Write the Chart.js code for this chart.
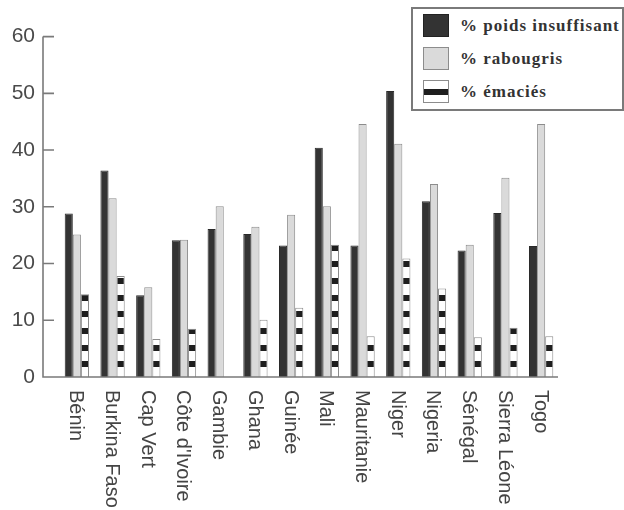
<!DOCTYPE html>
<html>
<head>
<meta charset="utf-8">
<script src="https://cdn.jsdelivr.net/npm/chart.js@4.4.1/dist/chart.umd.min.js"></script>
<style>
    body { margin: 0; background: #fff; }
    #wrap { position: relative; width: 624px; height: 510px; }
    #legend {
        position: absolute; left: 411px; top: 7px; width: 209px; height: 100px;
        border: 2px solid #7a7a7a; background: #fff;
        font: bold 17px "Liberation Serif", "DejaVu Serif", serif; color: #333;
        letter-spacing: 1px;
    }
    #legend p { margin: 0; height: 33px; display: flex; align-items: center; }
    #legend i { display: inline-block; width: 26px; height: 23px; margin: 0 11px 0 10px; box-sizing: border-box; }
</style>
</head>
<body>
<div id="wrap">
    <canvas id="chart" width="624" height="510"></canvas>
    <div id="legend"></div>
</div>
<script>
// data
const countries = ["Bénin", "Burkina Faso", "Cap Vert", "Côte d'Ivoire", "Gambie", "Ghana", "Guinée",
    "Mali", "Mauritanie", "Niger", "Nigeria", "Sénégal", "Sierra Léone", "Togo"];
const poidsInsuffisant = [28.8, 36.4, 14.4, 24.1, 26.1, 25.2, 23.2, 40.4, 23.2, 50.4, 31.0, 22.3, 28.9, 23.1];
const rabougris = [25.1, 31.5, 15.8, 24.2, 30.1, 26.5, 28.6, 30.1, 44.6, 41.1, 34.0, 23.3, 35.1, 44.6];
const emacies = [14.6, 17.8, 6.7, 8.5, null, 10.1, 12.2, 23.3, 7.2, 20.9, 15.6, 7.0, 8.7, 7.2];
const seriesLabels = ["% poids insuffisant", "% rabougris", "% émaciés"];
const yTicks = [0, 10, 20, 30, 40, 50, 60];

// striped fill for the "émaciés" bars (black blocks on white)
function makeStripes() {
    const c = document.createElement("canvas");
    c.width = 10;
    c.height = 50;
    const g = c.getContext("2d");
    g.fillStyle = "#fff";
    g.fillRect(0, 0, 10, 50);
    g.fillStyle = "#1e1e1e";
    g.fillRect(0, 11, 10, 6);
    g.fillRect(0, 28, 10, 6);
    g.fillRect(0, 45, 10, 5);
    g.fillRect(0, 0, 10, 1);
    return g.createPattern(c, "repeat");
}

const AXIS_SHIFT = 16;

// axis lines sit a bit left of the first bar group, ticks point inward
const axisPlugin = {
    id: "axisLines",
    afterDraw(chart) {
        const { ctx, chartArea, scales } = chart;
        const x0 = chartArea.left - AXIS_SHIFT;
        const yTop = scales.y.getPixelForValue(60);
        const yBot = scales.y.getPixelForValue(0);
        ctx.save();
        ctx.strokeStyle = "#7a7a7a";
        ctx.lineWidth = 1.6;
        ctx.beginPath();
        ctx.moveTo(x0, yTop);
        ctx.lineTo(x0, yBot);
        ctx.lineTo(chartArea.right - 1, yBot);
        yTicks.forEach(v => {
            const y = scales.y.getPixelForValue(v);
            ctx.moveTo(x0, y);
            ctx.lineTo(x0 + 11, y);
        });
        ctx.stroke();

        // country names, rotated clockwise
        ctx.fillStyle = "#444";
        ctx.font = '20px "Liberation Sans", Arial, sans-serif';
        ctx.textAlign = "left";
        ctx.textBaseline = "middle";
        countries.forEach((name, i) => {
            const x = scales.x.getPixelForValue(i);
            ctx.save();
            ctx.translate(x - 1, yBot + 13);
            ctx.rotate(Math.PI / 2);
            ctx.fillText(name, 0, 0);
            ctx.restore();
        });
        ctx.restore();
    }
};

const stripes = makeStripes();

const chart = new Chart(document.getElementById("chart"), {
    type: "bar",
    data: {
        labels: countries,
        datasets: [
            {
                label: seriesLabels[0],
                data: poidsInsuffisant,
                backgroundColor: "#333333",
                borderColor: "#2a2a2a",
                borderWidth: 1
            },
            {
                label: seriesLabels[1],
                data: rabougris,
                backgroundColor: "#dadada",
                borderColor: "#8c8c8c",
                borderWidth: 1
            },
            {
                label: seriesLabels[2],
                data: emacies,
                backgroundColor: stripes,
                borderColor: "#8c8c8c",
                borderWidth: 1
            }
        ]
    },
    options: {
        responsive: false,
        animation: false,
        layout: { padding: { top: 34.5, right: 65, bottom: 125, left: 0 } },
        datasets: {
            bar: { categoryPercentage: 0.68, barPercentage: 1.0 }
        },
        plugins: {
            legend: { display: false },
            tooltip: { enabled: false }
        },
        scales: {
            x: {
                grid: { display: false },
                border: { display: false },
                ticks: { display: false }
            },
            y: {
                min: 0,
                max: 60,
                afterFit: (scale) => { scale.width = 59; },
                afterBuildTicks: (scale) => { scale.ticks = yTicks.map(v => ({ value: v })); },
                grid: { display: false, drawTicks: false },
                border: { display: false },
                ticks: {
                    padding: 24,
                    color: "#4a4a4a",
                    font: { family: '"Liberation Sans", Arial, sans-serif', size: 21 }
                }
            }
        }
    },
    plugins: [axisPlugin]
});

// legend box, built from the series
const swatchStyles = [
    "background:#333;border:1px solid #222;",
    "background:#dadada;border:1.5px solid #8c8c8c;",
    "background:linear-gradient(#fff 0 36%, #1e1e1e 36% 66%, #fff 66%);border:1.5px solid #8c8c8c;"
];
document.getElementById("legend").innerHTML = seriesLabels
    .map((s, i) => `<p><i style="${swatchStyles[i]}"></i>${s}</p>`)
    .join("");
</script>
</body>
</html>
